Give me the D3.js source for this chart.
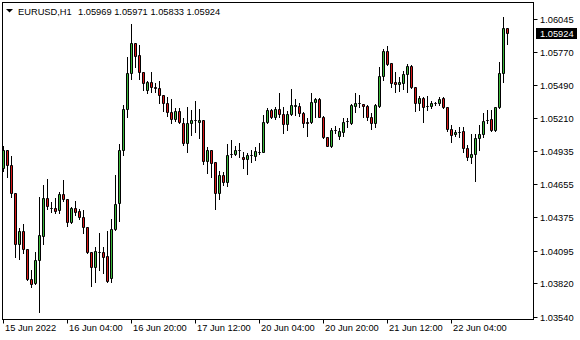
<!DOCTYPE html>
<html>
<head>
<meta charset="utf-8">
<script src="https://d3js.org/d3.v7.min.js"></script>
<style>
body { margin: 0; background: #fff; }
svg { display: block; }
text { font-family: "Liberation Sans", Arial, sans-serif; font-size: 9.3px; fill: #000; }
</style>
</head>
<body>
<div id="chart"></div>
<script>
const symbol = "EURUSD,H1";

const opens = [1.04791,1.04943,1.04816,1.04581,1.04151,1.04261,1.04109,1.03857,1.03823,1.04017,
  1.04219,1.04539,1.04455,1.04455,1.04438,1.04572,1.04530,1.04337,1.04455,1.04429,
  1.04379,1.04295,1.04084,1.03958,1.04084,1.04084,1.04050,1.03865,1.04278,1.04496,
  1.04943,1.05288,1.05591,1.05843,1.05742,1.05599,1.05448,1.05515,1.05473,1.05464,
  1.05405,1.05338,1.05262,1.05204,1.05271,1.05170,1.05002,1.05170,1.05191,1.05178,
  1.05195,1.04850,1.04943,1.04842,1.04581,1.04732,1.04673,1.04905,1.04909,1.04943,
  1.04884,1.04867,1.04901,1.04892,1.04926,1.04926,1.05178,1.05279,1.05220,1.05288,
  1.05246,1.05161,1.05246,1.05317,1.05313,1.05254,1.05178,1.05178,1.05347,1.05372,
  1.05220,1.05052,1.04980,1.05107,1.05060,1.05096,1.05187,1.05170,1.05316,1.05336,
  1.05330,1.05313,1.05220,1.05170,1.05313,1.05565,1.05776,1.05675,1.05515,1.05498,
  1.05506,1.05582,1.05650,1.05473,1.05338,1.05380,1.05313,1.05313,1.05338,1.05338,
  1.05380,1.05305,1.05119,1.05077,1.05094,1.05102,1.04960,1.04884,1.04909,1.05044,
  1.05077,1.05191,1.05204,1.05111,1.05305,1.05591,1.05969];

const highs = [1.04976,1.04943,1.04892,1.04581,1.04286,1.04320,1.04109,1.03933,1.04084,1.04547,
  1.04648,1.04699,1.04505,1.04539,1.04589,1.04690,1.04530,1.04463,1.04513,1.04446,
  1.04438,1.04295,1.04084,1.04126,1.04244,1.04126,1.04261,1.04362,1.04732,1.04993,
  1.05321,1.05725,1.06003,1.05843,1.05826,1.05599,1.05523,1.05599,1.05506,1.05523,
  1.05405,1.05389,1.05372,1.05296,1.05296,1.05212,1.05305,1.05279,1.05355,1.05288,
  1.05195,1.04968,1.04943,1.04842,1.04766,1.04757,1.04993,1.05027,1.04976,1.05002,
  1.04926,1.04917,1.04943,1.04968,1.05002,1.05237,1.05296,1.05288,1.05305,1.05422,
  1.05305,1.05271,1.05456,1.05372,1.05338,1.05262,1.05212,1.05422,1.05380,1.05380,
  1.05229,1.05052,1.05128,1.05144,1.05128,1.05212,1.05212,1.05330,1.05422,1.05405,
  1.05330,1.05321,1.05254,1.05330,1.05641,1.05793,1.05818,1.05675,1.05599,1.05557,
  1.05607,1.05666,1.05658,1.05473,1.05397,1.05389,1.05397,1.05355,1.05347,1.05389,
  1.05389,1.05305,1.05153,1.05111,1.05136,1.05136,1.04985,1.05077,1.05077,1.05153,
  1.05254,1.05279,1.05279,1.05305,1.05683,1.06062,1.05971];

const lows = [1.04766,1.04715,1.04547,1.04042,1.04025,1.04075,1.03849,1.03790,1.03815,1.03579,
  1.04151,1.04446,1.04421,1.04412,1.04412,1.04513,1.04303,1.04328,1.04396,1.04362,
  1.04244,1.04075,1.03798,1.03832,1.03933,1.03907,1.03832,1.03832,1.04269,1.04345,
  1.04901,1.05220,1.05540,1.05641,1.05540,1.05448,1.05422,1.05431,1.05431,1.05338,
  1.05271,1.05229,1.05170,1.05187,1.05170,1.04985,1.04926,1.05069,1.05094,1.05044,
  1.04825,1.04749,1.04715,1.04446,1.04530,1.04648,1.04640,1.04884,1.04901,1.04884,
  1.04791,1.04741,1.04842,1.04859,1.04909,1.04926,1.05170,1.05212,1.05204,1.05220,
  1.05086,1.05111,1.05237,1.05237,1.05229,1.05136,1.05060,1.05170,1.05220,1.05220,
  1.05044,1.04976,1.04968,1.05086,1.05035,1.05060,1.05136,1.05161,1.05262,1.05305,
  1.05220,1.05195,1.05119,1.05136,1.05305,1.05532,1.05658,1.05473,1.05431,1.05439,
  1.05456,1.05431,1.05465,1.05271,1.05279,1.05178,1.05279,1.05296,1.05321,1.05321,
  1.05300,1.05102,1.05010,1.05060,1.05052,1.04926,1.04859,1.04833,1.04682,1.04943,
  1.05052,1.05170,1.05102,1.05102,1.05296,1.05515,1.05833];

const closes = [1.04943,1.04816,1.04581,1.04151,1.04261,1.04109,1.03857,1.03815,1.04017,1.04227,
  1.04539,1.04471,1.04452,1.04429,1.04572,1.04530,1.04337,1.04455,1.04421,1.04379,
  1.04295,1.04084,1.03958,1.04092,1.04082,1.04042,1.03840,1.04278,1.04488,1.04943,
  1.05288,1.05591,1.05843,1.05734,1.05599,1.05506,1.05515,1.05473,1.05464,1.05405,
  1.05338,1.05262,1.05204,1.05271,1.05178,1.05002,1.05170,1.05195,1.05191,1.05195,
  1.04850,1.04943,1.04833,1.04581,1.04732,1.04673,1.04901,1.04909,1.04943,1.04941,
  1.04867,1.04901,1.04903,1.04934,1.04924,1.05178,1.05279,1.05220,1.05288,1.05246,
  1.05161,1.05246,1.05321,1.05319,1.05254,1.05170,1.05174,1.05347,1.05372,1.05220,
  1.05052,1.04980,1.05111,1.05109,1.05102,1.05178,1.05189,1.05321,1.05336,1.05338,
  1.05316,1.05220,1.05170,1.05321,1.05565,1.05776,1.05666,1.05506,1.05498,1.05515,
  1.05582,1.05650,1.05473,1.05338,1.05380,1.05305,1.05311,1.05338,1.05340,1.05372,
  1.05305,1.05119,1.05069,1.05090,1.05092,1.04960,1.04884,1.04909,1.05044,1.05077,
  1.05187,1.05193,1.05111,1.05305,1.05591,1.05969,1.05924];

const timeLabels = ["15 Jun 2022","16 Jun 04:00","16 Jun 20:00","17 Jun 12:00",
  "20 Jun 04:00","20 Jun 20:00","21 Jun 12:00","22 Jun 04:00"];
const timeLabelBars = [0,16,32,48,64,80,96,112];

const priceTicks = [1.06045,1.05770,1.05490,1.05210,1.04935,1.04655,1.04375,1.04095,1.03820,1.03540];

const ctx = {
    width: 580,
    height: 340,
    left: 2.5,
    right: 533.5,
    top: 2.5,
    bottom: 319.5,
    bull: "#3cb83c",
    bear: "#d81818"
};

function createViz() {
    ctx.svg = d3.select("#chart").append("svg")
        .attr("width", ctx.width)
        .attr("height", ctx.height);

    ctx.x = d3.scaleLinear().domain([0, opens.length - 1]).range([3.5, 3.5 + 4 * (opens.length - 1)]);
    ctx.y = d3.scaleLinear().domain([1.03540, 1.06045]).range([316.7, 19]);

    drawFrame();
    drawCandles();
    drawPriceAxis();
    drawTimeAxis();
    drawHeader();
}

function drawFrame() {
    ctx.svg.append("clipPath").attr("id", "plotClip")
        .append("rect")
        .attr("x", 3).attr("y", 3)
        .attr("width", ctx.right - ctx.left - 1)
        .attr("height", ctx.bottom - ctx.top - 1);

    ctx.svg.append("rect")
        .attr("x", ctx.left).attr("y", ctx.top)
        .attr("width", ctx.right - ctx.left)
        .attr("height", ctx.bottom - ctx.top)
        .attr("fill", "none")
        .attr("stroke", "#000");
}

function drawCandles() {
    let bars = d3.range(opens.length).map(i => ({
        i: i, o: opens[i], h: highs[i], l: lows[i], c: closes[i]
    }));

    let g = ctx.svg.append("g").attr("clip-path", "url(#plotClip)");

    // mèches
    g.selectAll("line.wick")
        .data(bars)
        .enter().append("line")
        .attr("class", "wick")
        .attr("x1", d => ctx.x(d.i))
        .attr("x2", d => ctx.x(d.i))
        .attr("y1", d => Math.round(ctx.y(d.h)))
        .attr("y2", d => Math.round(ctx.y(d.l)) + 1)
        .attr("stroke", "#000");

    // corps des bougies
    g.selectAll("path.body")
        .data(bars)
        .enter().append("path")
        .attr("class", "body")
        .attr("d", d => {
            let t = Math.round(ctx.y(Math.max(d.o, d.c))) + 0.5;
            let b = Math.round(ctx.y(Math.min(d.o, d.c))) + 0.5;
            let x0 = ctx.x(d.i) - 1, x1 = ctx.x(d.i) + 1;
            return `M${x0},${t}H${x1}V${b}H${x0}Z`;
        })
        .attr("fill", d => d.c >= d.o ? ctx.bull : ctx.bear)
        .attr("stroke", "#000");
}

function drawPriceAxis() {
    let g = ctx.svg.append("g");

    g.selectAll("line.ptick")
        .data(priceTicks)
        .enter().append("line")
        .attr("x1", ctx.right + 0.5).attr("x2", ctx.right + 4)
        .attr("y1", d => Math.round(ctx.y(d)) + 0.5)
        .attr("y2", d => Math.round(ctx.y(d)) + 0.5)
        .attr("stroke", "#000");

    g.selectAll("text.plabel")
        .data(priceTicks)
        .enter().append("text")
        .attr("x", 540)
        .attr("y", d => Math.round(ctx.y(d)) + 3.8)
        .text(d => d.toFixed(5));

    // étiquette du dernier prix
    let last = closes[closes.length - 1];
    let ly = Math.round(ctx.y(last));
    g.append("rect")
        .attr("x", 536).attr("y", ly - 5)
        .attr("width", 41).attr("height", 11)
        .attr("fill", "#000");
    g.append("text")
        .attr("x", 540).attr("y", ly + 3.8)
        .style("fill", "#fff")
        .text(last.toFixed(5));
}

function drawTimeAxis() {
    let g = ctx.svg.append("g");

    g.selectAll("line.ttick")
        .data(timeLabelBars)
        .enter().append("line")
        .attr("x1", d => ctx.x(d)).attr("x2", d => ctx.x(d))
        .attr("y1", ctx.bottom + 0.5).attr("y2", ctx.bottom + 4)
        .attr("stroke", "#000");

    g.selectAll("text.tlabel")
        .data(timeLabelBars)
        .enter().append("text")
        .attr("x", d => ctx.x(d) + 1.5)
        .attr("y", 331)
        .text((d, k) => timeLabels[k]);
}

function drawHeader() {
    let n = opens.length - 1;
    ctx.svg.append("path")
        .attr("d", "M6,9L13,9L9.5,12.5Z")
        .attr("fill", "#000");

    ctx.svg.append("text")
        .attr("x", 18).attr("y", 14.5)
        .text(symbol);

    let vals = [opens[n], highs[n], lows[n], closes[n]];
    ctx.svg.selectAll("text.ohlc")
        .data(vals)
        .enter().append("text")
        .attr("x", (d, k) => 78 + k * 36.2)
        .attr("y", 14.5)
        .text(d => d.toFixed(5));
}

createViz();
</script>
</body>
</html>
